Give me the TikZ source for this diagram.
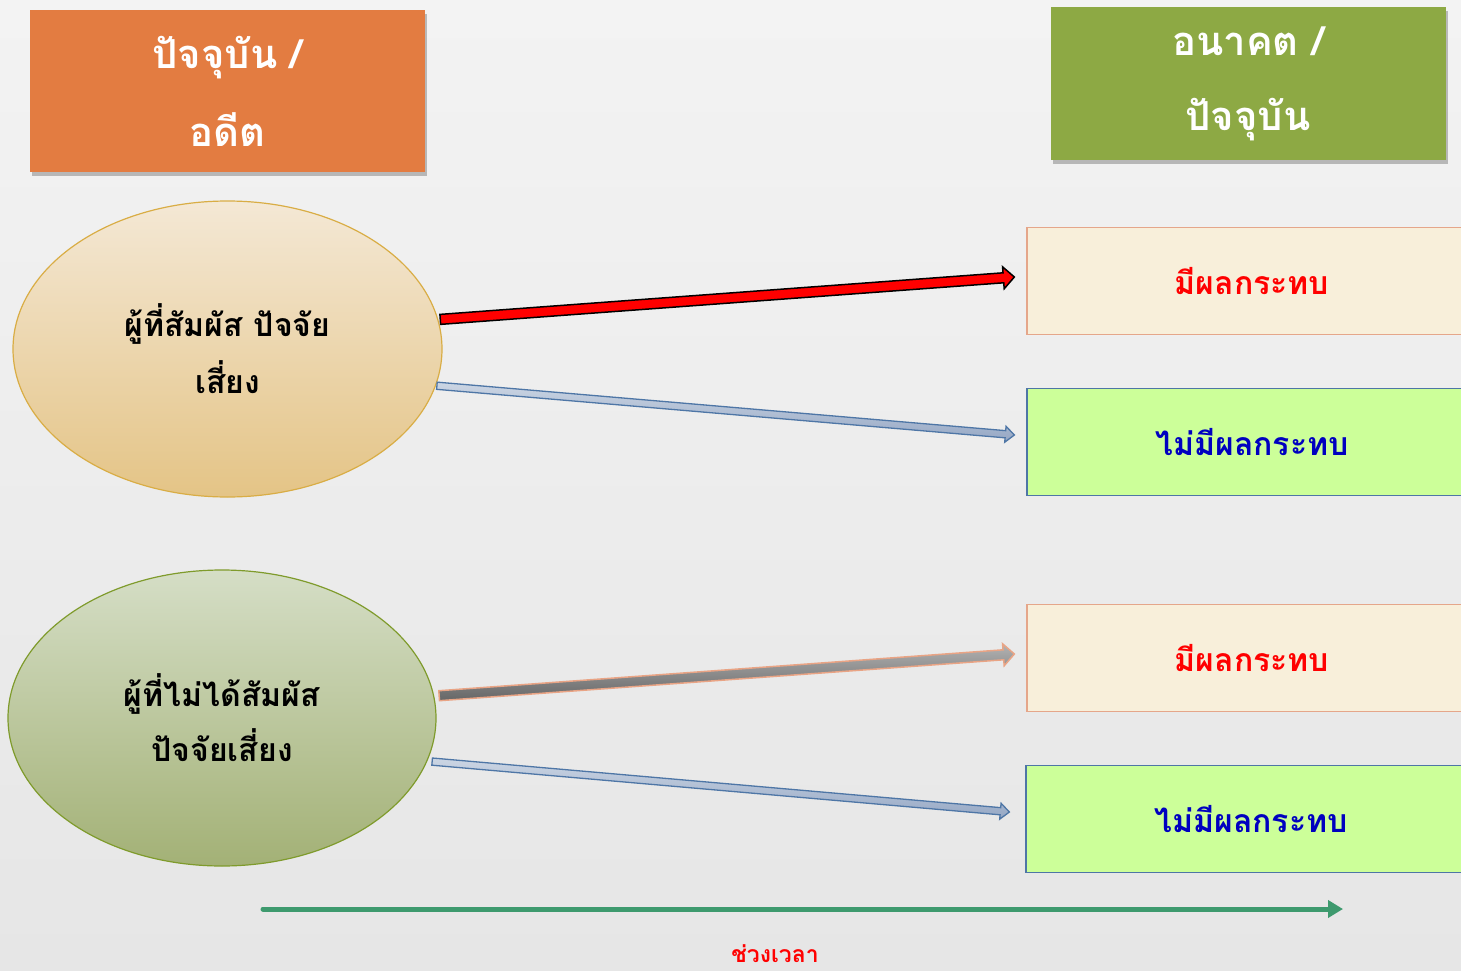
\documentclass[tikz,border=0pt]{standalone}
\usepackage{fontspec}
\newfontfamily\thai[Script=Thai]{Loma}
\usetikzlibrary{calc,shapes.geometric,shadows,arrows.meta}

\definecolor{bgtop}{HTML}{F3F3F3}
\definecolor{bgbot}{HTML}{E6E6E6}
\definecolor{pastfill}{HTML}{E37C41}
\definecolor{futfill}{HTML}{8DA944}
\definecolor{ellAtop}{HTML}{F4E8D5}
\definecolor{ellAbot}{HTML}{E4C486}
\definecolor{ellAline}{HTML}{D9AD45}
\definecolor{ellBtop}{HTML}{D5DEC6}
\definecolor{ellBbot}{HTML}{A3B176}
\definecolor{ellBline}{HTML}{7F9B2C}
\definecolor{hitfill}{HTML}{F8EFDA}
\definecolor{hitline}{HTML}{E5A68A}
\definecolor{nofill}{HTML}{CCFF99}
\definecolor{noline}{HTML}{4E76A6}
\definecolor{notext}{HTML}{0000C0}
\definecolor{bluetop}{HTML}{CCD6E4}
\definecolor{bluebot}{HTML}{95A7C4}
\definecolor{grayline}{HTML}{E9A485}
\definecolor{axis}{HTML}{3E9A6E}

% block arrow: style, start, end, half shaft, half head, head length
\newcommand{\blockarr}[6]{%
  \coordinate (bah) at ($(#3)!#6!(#2)$);
  \path[#1] ($(#2)!#4!90:(#3)$) -- ($(bah)!#4!90:(#3)$) -- ($(bah)!#5!90:(#3)$)
    -- (#3) -- ($(bah)!#5!-90:(#3)$) -- ($(bah)!#4!-90:(#3)$)
    -- ($(#2)!#4!-90:(#3)$) -- cycle;
}

\tikzset{
  hdr/.style={rectangle, minimum width=395pt, text=white, align=center,
    drop shadow={shadow xshift=2pt, shadow yshift=-4pt, opacity=0.3, fill=black!80}},
  hdrfont/.style={font=\thai\bfseries\fontsize{40}{#1}\selectfont},
  bubble/.style={ellipse, inner sep=0pt, line width=1.2pt, align=center,
    font=\thai\bfseries\fontsize{32}{#1}\selectfont},
  outcome/.style={rectangle, minimum width=450pt, minimum height=107pt,
    line width=1.3pt, font=\thai\bfseries\fontsize{32}{36}\selectfont},
  hit/.style={outcome, fill=hitfill, draw=hitline, text=red},
  nohit/.style={outcome, fill=nofill, draw=noline, text=notext},
  redarrow/.style={fill=red, draw=black, line width=1.5pt, line join=miter},
  bluearrow/.style={top color=bluetop, bottom color=bluebot, draw=noline, line width=1.3pt},
  grayarrow/.style={top color=black!30, bottom color=black!60, draw=grayline, line width=1.5pt},
}

\begin{document}
\begin{tikzpicture}[x=1pt, y=-1pt]
  \useasboundingbox (0,0) rectangle (1461,971);
  \clip (0,0) rectangle (1461,971);
  \fill[top color=bgtop, bottom color=bgbot] (0,0) rectangle (1461,971);

  % period headers
  \node[hdr, hdrfont=78, fill=pastfill, minimum height=162pt] (past) at (227.5,91)
    {ปัจจุบัน /\\อดีต};
  \node[hdr, hdrfont=75, fill=futfill, minimum height=153pt] (future) at (1248,83.5)
    {อนาคต /\\ปัจจุบัน};

  % groups
  \node[bubble=57, minimum width=429pt, minimum height=296pt,
        top color=ellAtop, bottom color=ellAbot, draw=ellAline] (e1) at (227.5,349)
    {ผู้ที่สัมผัส ปัจจัย\\เสี่ยง};
  \node[bubble=55, minimum width=428pt, minimum height=296pt,
        top color=ellBtop, bottom color=ellBbot, draw=ellBline] (e2) at (222,718)
    {ผู้ที่ไม่ได้สัมผัส\\ปัจจัยเสี่ยง};

  % outcomes
  \node[hit]   (b1) at (1252,281) {มีผลกระทบ};
  \node[nohit] (b2) at (1252,442) {ไม่มีผลกระทบ};
  \node[hit]   (b3) at (1252,658) {มีผลกระทบ};
  \node[nohit] (b4) at (1251,819) {ไม่มีผลกระทบ};

  % connectors
  \coordinate (r1s) at ($(e1.8)+(2,0)$);
  \coordinate (r1e) at ($(b1.west)+(-12,-4)$);
  \coordinate (r2s) at ($(e1.-10)+(1,0)$);
  \coordinate (r2e) at ($(b2.west)+(-12,-7)$);
  \coordinate (r3s) at ($(e2.6)+(5,0)$);
  \coordinate (r3e) at ($(b3.west)+(-12,-4)$);
  \coordinate (r4s) at ($(e2.-12)+(5,0)$);
  \coordinate (r4e) at ($(b4.west)+(-16,-7)$);

  \blockarr{redarrow}{r1s}{r1e}{5pt}{11pt}{11pt}
  \blockarr{bluearrow}{r2s}{r2e}{3.6pt}{8pt}{9pt}
  \blockarr{grayarrow}{r3s}{r3e}{5pt}{11pt}{11pt}
  \blockarr{bluearrow}{r4s}{r4e}{3.6pt}{8pt}{9pt}

  % time axis
  \coordinate (t0) at (263,909);
  \coordinate (t1) at (1343,909);
  \draw[axis, line width=5pt, line cap=round, -{Triangle[length=15pt,width=17pt]}] (t0) -- (t1);
  \node[text=red, font=\thai\bfseries\fontsize{23}{28}\selectfont] (tl) at (775,954) {ช่วงเวลา};
\end{tikzpicture}
\end{document}
